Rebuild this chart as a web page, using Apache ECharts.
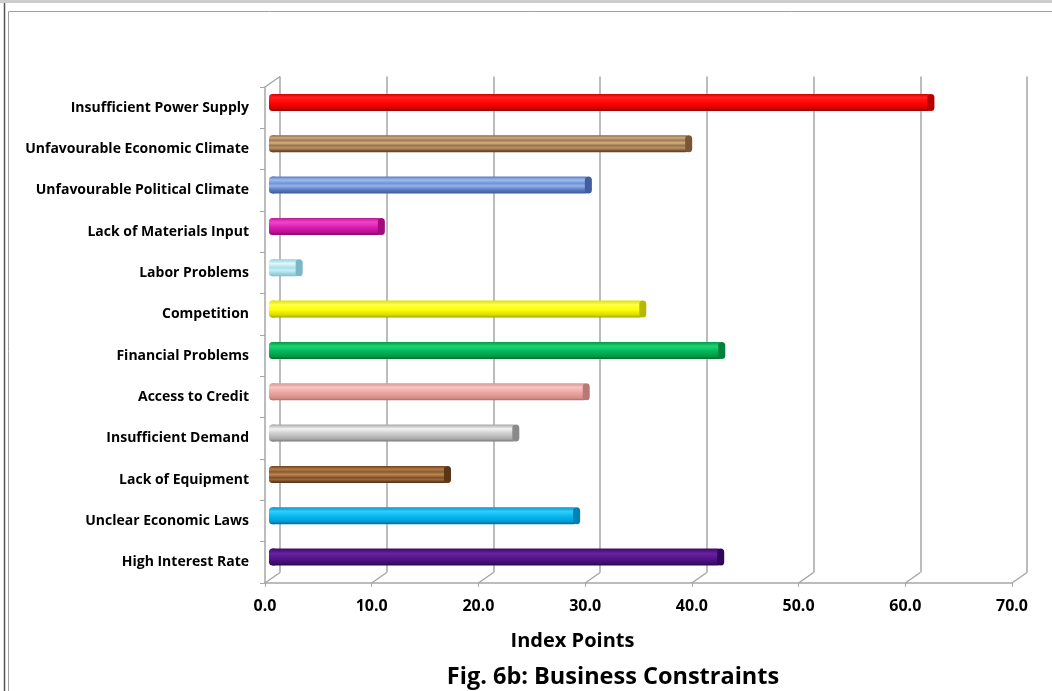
<!DOCTYPE html>
<html>
<head>
<meta charset="utf-8">
<title>Fig. 6b: Business Constraints</title>
<script src="https://cdn.jsdelivr.net/npm/echarts@6/dist/echarts.min.js"></script>
<style>
  html, body { margin: 0; padding: 0; background: #ffffff; }
  #chart { width: 1052px; height: 691px; }
</style>
</head>
<body>
<div id="chart"></div>
<script>
// Business constraints, top to bottom
const categories = [
  'Insufficient Power Supply',
  'Unfavourable Economic Climate',
  'Unfavourable Political Climate',
  'Lack of Materials Input',
  'Labor Problems',
  'Competition',
  'Financial Problems',
  'Access to Credit',
  'Insufficient Demand',
  'Lack of Equipment',
  'Unclear Economic Laws',
  'High Interest Rate'
];
const indexPoints = [61.7, 39.0, 29.6, 10.2, 2.5, 34.7, 42.1, 29.4, 22.8, 16.4, 28.5, 42.0];
const xTicks = [0, 10, 20, 30, 40, 50, 60, 70];

// Cylinder shading for each bar (vertical gradient stops)
const barShades = [
  [['#d40000',0],['#ff2020',0.2],['#ff0000',0.55],['#d00000',0.85],['#9a0000',1]],
  [['#8a6540',0],['#cfab80',0.15],['#a17a4f',0.3],['#d3b086',0.45],['#9c7448',0.6],['#ba9268',0.75],['#7a5532',0.9],['#5e3f22',1]],
  [['#5a7cc0',0],['#9dbdf0',0.2],['#6f93d8',0.4],['#93b3ec',0.55],['#5e80c6',0.75],['#3b5a9a',1]],
  [['#c0168f',0],['#f045cc',0.25],['#dc1eb0',0.55],['#b80e8e',0.85],['#8a0a6a',1]],
  [['#8fcfdc',0],['#e2f7fb',0.25],['#a6e0ec',0.5],['#c8eef5',0.65],['#7cc0cf',1]],
  [['#e0e000',0],['#ffff50',0.25],['#ffff00',0.55],['#d8d800',0.85],['#a0a000',1]],
  [['#009a44',0],['#22d274',0.25],['#00b858',0.55],['#009845',0.85],['#006b30',1]],
  [['#d89894',0],['#f8c4c0',0.25],['#eca6a2',0.55],['#d88f8a',0.85],['#b06c68',1]],
  [['#a8a8a8',0],['#f2f2f2',0.25],['#d0d0d0',0.5],['#a8a8a8',0.85],['#767676',1]],
  [['#6b4020',0],['#b47c44',0.2],['#8a5a2c',0.35],['#bb8654',0.5],['#7c4e26',0.7],['#9a6638',0.8],['#4e2e14',1]],
  [['#0098d0',0],['#34ccf8',0.25],['#00b8f0',0.55],['#0098d0',0.85],['#006a96',1]],
  [['#3c0a6a',0],['#6a22a0',0.3],['#55168c',0.55],['#420c70',0.85],['#2a0548',1]]
];
const capShades = ['#b80000','#7a5634','#3f5f9e','#a00c7c','#7ab8c6','#b8b800','#00803a','#b87874',
                   '#8a8a8a','#5a3618','#0080b4','#30075a'];

const gridColor = '#a6a6a6';
const fontFamily = '"Open Sans", Lato, sans-serif';

// perspective shift from the front plane to the back wall
const DX = 15, DY = -10.5;

function grad(stops) {
  return new echarts.graphic.LinearGradient(0, 0, 0, 1,
    stops.map(s => ({ color: s[0], offset: s[1] })));
}

const chart = echarts.init(document.getElementById('chart'), null, { renderer: 'canvas' });

const front = { left: 265, top: 87, width: 747, height: 496 };
const option = {
  backgroundColor: '#ffffff',
  animation: false,
  title: {
    text: 'Fig. 6b: Business Constraints',
    left: 608, top: 660, textAlign: 'center',
    textStyle: { fontFamily, fontWeight: 'bold', fontSize: 23.5, color: '#000' }
  },
  grid: [
    front,
    { left: front.left + DX, top: front.top + DY, width: front.width, height: front.height },
    { left: front.left + DX / 2, top: front.top + DY / 2, width: front.width, height: front.height }
  ],
  xAxis: [
    {
      gridIndex: 0, type: 'value', min: 0, max: 70, interval: 10,
      name: 'Index Points', nameLocation: 'middle', nameGap: 48,
      nameTextStyle: { fontFamily, fontWeight: 'bold', fontSize: 20, color: '#000',
                       padding: [0, 132, 0, 0] },
      axisLine: { show: true, lineStyle: { color: gridColor, width: 1.5 } },
      axisTick: { show: true, length: 4, lineStyle: { color: gridColor } },
      axisLabel: { margin: 15, fontFamily, fontWeight: 'bold', fontSize: 16, color: '#000',
                   formatter: v => v.toFixed(1) },
      splitLine: { show: false }
    },
    {
      gridIndex: 1, type: 'value', min: 0, max: 70, interval: 10,
      axisLine: { show: false }, axisTick: { show: false }, axisLabel: { show: false },
      splitLine: { show: true, lineStyle: { color: gridColor, width: 1.5 } }
    },
    {
      gridIndex: 2, type: 'value', min: 0, max: 70, interval: 10, show: false
    }
  ],
  yAxis: [
    {
      gridIndex: 0, type: 'category', data: categories, inverse: true,
      axisLine: { show: true, lineStyle: { color: gridColor, width: 1.5 } },
      axisTick: { show: true, length: 5, lineStyle: { color: gridColor } },
      axisLabel: { margin: 16, fontFamily, fontWeight: 'bold', fontSize: 14, color: '#000',
                   padding: [7, 0, 0, 0] }
    },
    { gridIndex: 1, type: 'category', data: categories, inverse: true, show: false },
    { gridIndex: 2, type: 'category', data: categories, inverse: true, show: false }
  ],
  series: [
    {
      // floor edges and wall corner linking the front axis to the back gridlines
      type: 'custom', xAxisIndex: 0, yAxisIndex: 0, silent: true, z: 1,
      data: xTicks,
      renderItem: function (params, api) {
        const cs = params.coordSys;
        const x = api.coord([api.value(0), 0])[0];
        const bottom = cs.y + cs.height;
        const children = [{
          type: 'line',
          shape: { x1: x, y1: bottom, x2: x + DX, y2: bottom + DY },
          style: { stroke: gridColor, lineWidth: 1.5 }
        }];
        if (params.dataIndex === 0) {
          children.push({
            type: 'line',
            shape: { x1: x, y1: cs.y, x2: x + DX, y2: cs.y + DY },
            style: { stroke: gridColor, lineWidth: 1.5 }
          });
        }
        return { type: 'group', children };
      }
    },
    {
      // rounded base of each cylinder at zero
      type: 'custom', xAxisIndex: 2, yAxisIndex: 2, z: 2, silent: true,
      data: indexPoints.map((v, i) => [0, i]),
      renderItem: function (params, api) {
        const p = api.coord([0, api.value(1)]);
        return {
          type: 'rect',
          shape: { x: p[0] - 3.5, y: p[1] - 8.5, width: 8, height: 17, r: 3.5 },
          style: { fill: grad(barShades[params.dataIndex]) }
        };
      }
    },
    {
      type: 'bar', xAxisIndex: 2, yAxisIndex: 2, z: 3,
      barWidth: 17,
      data: indexPoints.map((v, i) => ({
        value: v,
        itemStyle: { color: grad(barShades[i]), borderRadius: [0, 3, 3, 0] }
      }))
    },
    {
      // cylinder end caps at each bar's value
      type: 'custom', xAxisIndex: 2, yAxisIndex: 2, z: 4, silent: true,
      data: indexPoints.map((v, i) => [v, i]),
      renderItem: function (params, api) {
        const p = api.coord([api.value(0), api.value(1)]);
        const i = params.dataIndex;
        return {
          type: 'rect',
          shape: { x: p[0] - 3.5, y: p[1] - 8.5, width: 7, height: 17, r: 3.5 },
          style: { fill: capShades[i] }
        };
      }
    }
  ],
  graphic: [
    { type: 'rect', shape: { x: 0, y: 0, width: 1052, height: 3 }, style: { fill: '#cccccc' }, silent: true },
    { type: 'line', shape: { x1: 4.5, y1: 3, x2: 4.5, y2: 691 }, style: { stroke: '#555555', lineWidth: 1.5 }, silent: true },
    { type: 'rect', shape: { x: 8.5, y: 11.5, width: 1060, height: 700 }, style: { fill: 'none', stroke: '#a0a0a0', lineWidth: 1 }, silent: true }
  ]
};
chart.setOption(option);
</script>
</body>
</html>
